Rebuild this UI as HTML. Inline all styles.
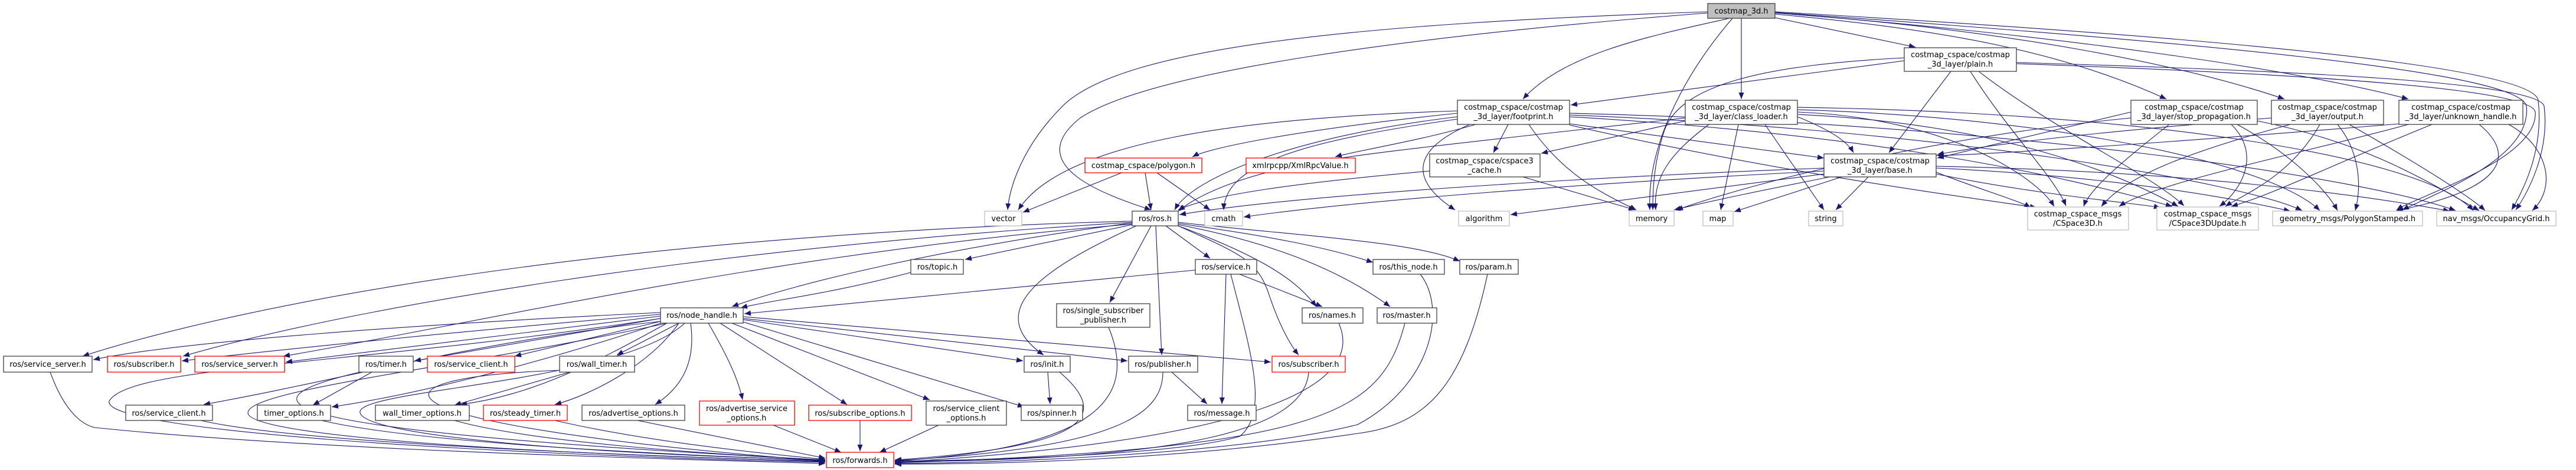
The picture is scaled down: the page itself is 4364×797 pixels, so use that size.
<!DOCTYPE html>
<html><head><meta charset="utf-8"><style>
html,body{margin:0;padding:0;background:#fff;}
svg{display:block;}
text{font-family:"DejaVu Sans","Liberation Sans",sans-serif;font-size:13px;fill:#000;text-anchor:middle;}
.e{fill:none;stroke:#191970;stroke-width:1.1;marker-end:url(#a);}
.n{fill:#fff;stroke:#404040;stroke-width:1.3;}
.r{fill:#fff;stroke:#ff0000;stroke-width:1.3;}
.g{fill:#fff;stroke:#bfbfbf;stroke-width:1.3;}
</style></head><body>
<svg width="4364" height="797" viewBox="0 0 4364 797" xmlns="http://www.w3.org/2000/svg">
<defs><marker id="a" markerUnits="userSpaceOnUse" markerWidth="12" markerHeight="9" refX="11" refY="4.5" orient="auto"><path d="M0,0 L11,4.5 L0,9 z" fill="#191970"/></marker></defs>
<g>
<!-- costmap_3d -->
<path class="e" d="M2930,31 C2800,60 2650,90 2580,168"/>
<path class="e" d="M2950,31 L2950,168"/>
<path class="e" d="M2935,31 C2850,130 2790,250 2795,356"/>
<path class="e" d="M3007,30 L3245,80"/>
<path class="e" d="M3007,24 C3300,50 3500,90 3670,168"/>
<path class="e" d="M3007,22 C3400,50 3700,110 3870,168"/>
<path class="e" d="M3007,22 C3500,60 3900,120 4080,168"/>
<path class="e" d="M2893,22 C2400,60 1950,120 1830,200 C1730,280 1870,330 1950,356"/>
<path class="e" d="M2893,20 C2300,40 1900,80 1800,180 C1730,250 1710,320 1707,356"/>
<path class="e" d="M3007,20 C3700,60 4290,110 4300,170 C4310,260 4270,330 4255,356"/>
<path class="e" d="M3007,21 C3700,70 4270,120 4280,180 C4290,270 4120,330 4070,356"/>
<!-- plain -->
<path class="e" d="M3226,103 L2661,178"/>
<path class="e" d="M3305,121 L3200,259"/>
<path class="e" d="M3226,98 C3000,110 2850,140 2820,220 C2800,280 2800,330 2800,356"/>
<path class="e" d="M3338,121 C3400,220 3480,300 3500,349"/>
<path class="e" d="M3352,121 C3480,220 3650,300 3700,349"/>
<path class="e" d="M3416,106 C3900,120 4300,140 4310,180 C4320,260 4280,330 4262,356"/>
<path class="e" d="M3416,108 C3900,125 4290,150 4295,190 C4300,270 4100,330 4060,356"/>
<!-- footprint -->
<path class="e" d="M2469,192 C2200,220 2050,250 2020,266"/>
<path class="e" d="M2500,211 C2400,240 2300,255 2262,266"/>
<path class="e" d="M2555,211 L2530,259"/>
<path class="e" d="M2490,211 C2400,250 2380,300 2465,356"/>
<path class="e" d="M2590,211 C2650,300 2720,330 2772,356"/>
<path class="e" d="M2659,210 L3090,268"/>
<path class="e" d="M2659,212 C3000,290 3300,330 3450,352"/>
<path class="e" d="M2469,198 C2200,230 2020,300 1990,356"/>
<path class="e" d="M2469,188 C2100,200 1800,240 1725,356"/>
<path class="e" d="M2469,202 C2200,240 2075,280 2073,356"/>
<path class="e" d="M2659,198 C3200,230 3500,300 3680,350"/>
<path class="e" d="M2659,195 C3300,220 3800,310 3900,357"/>
<path class="e" d="M2659,192 C3400,210 4000,300 4160,357"/>
<!-- class_loader -->
<path class="e" d="M3045,198 C3100,220 3130,240 3140,259"/>
<path class="e" d="M2855,205 L2611,260"/>
<path class="e" d="M2855,200 C2500,240 2300,260 2200,280 C2100,300 2030,330 1996,358"/>
<path class="e" d="M2895,211 C2830,260 2800,300 2805,356"/>
<path class="e" d="M2945,211 L2915,356"/>
<path class="e" d="M2990,211 L3090,356"/>
<path class="e" d="M3045,190 C3300,200 3450,300 3480,350"/>
<path class="e" d="M3045,194 C3400,210 3600,300 3690,350"/>
<path class="e" d="M3045,186 C3500,200 3850,280 3930,357"/>
<path class="e" d="M3045,182 C3600,190 4100,260 4190,357"/>
<!-- base -->
<path class="e" d="M3090,285 C2700,300 2200,330 1998,364"/>
<path class="e" d="M3090,290 C2700,310 2300,340 2107,368"/>
<path class="e" d="M3090,295 L2559,364"/>
<path class="e" d="M3100,300 C3000,320 2900,340 2836,356"/>
<path class="e" d="M3120,300 L2938,359"/>
<path class="e" d="M3165,300 L3110,356"/>
<path class="e" d="M3280,292 C3350,320 3420,340 3440,352"/>
<path class="e" d="M3280,295 C3450,330 3620,345 3660,352"/>
<path class="e" d="M3280,285 C3600,300 3800,340 3880,358"/>
<path class="e" d="M3280,282 C3700,290 4000,330 4150,358"/>
<!-- stop -->
<path class="e" d="M3610,190 L3282,268"/>
<path class="e" d="M3675,211 C3600,270 3540,320 3530,350"/>
<path class="e" d="M3780,211 C3830,260 3800,320 3760,350"/>
<path class="e" d="M3790,211 C3880,260 3940,320 3960,357"/>
<path class="e" d="M3610,200 C3300,230 3000,300 2840,356"/>
<path class="e" d="M3824,205 C4000,240 4100,300 4200,357"/>
<!-- output -->
<path class="e" d="M3848,200 C3600,220 3400,240 3282,262"/>
<path class="e" d="M3880,211 C3700,260 3600,300 3560,350"/>
<path class="e" d="M3930,211 C3880,300 3800,330 3770,350"/>
<path class="e" d="M3960,211 C4000,260 4000,320 3990,357"/>
<path class="e" d="M3980,211 C4100,280 4180,330 4210,357"/>
<!-- unknown -->
<path class="e" d="M4064,210 C3700,240 3400,260 3282,264"/>
<path class="e" d="M4080,211 C3900,260 3650,310 3590,350"/>
<path class="e" d="M4120,211 C3950,280 3850,330 3780,350"/>
<path class="e" d="M4200,211 C4260,260 4250,320 4060,357"/>
<path class="e" d="M4250,211 C4320,250 4330,320 4290,357"/>
<!-- polygon / cache -->
<path class="e" d="M1940,293 L1950,356"/>
<path class="e" d="M1900,293 L1733,360"/>
<path class="e" d="M1960,293 L2050,356"/>
<path class="e" d="M2580,300 L2770,356"/>
<path class="e" d="M2422,290 C2200,310 2050,330 1996,356"/>
<!-- ros.h -->
<path class="e" d="M1918,381 L1635,440"/>
<path class="e" d="M1975,383 L2050,438"/>
<path class="e" d="M1918,378 C1600,420 1350,480 1240,520"/>
<path class="e" d="M1950,383 L1880,513"/>
<path class="e" d="M1925,383 C1800,440 1650,520 1768,602"/>
<path class="e" d="M1958,383 L1968,602"/>
<path class="e" d="M1996,383 C2100,430 2130,440 2150,500 C2170,560 2190,590 2200,602"/>
<path class="e" d="M1996,383 C2150,440 2200,480 2230,520"/>
<path class="e" d="M1996,381 C2200,420 2300,480 2355,520"/>
<path class="e" d="M1996,379 C2150,400 2250,420 2326,445"/>
<path class="e" d="M1996,377 C2200,400 2400,410 2473,443"/>
<path class="e" d="M1918,375 C1000,400 400,520 140,604"/>
<path class="e" d="M1918,377 C1200,420 600,520 310,604"/>
<path class="e" d="M1918,380 C1300,430 800,550 480,604"/>
<!-- topic/service -->
<path class="e" d="M1543,462 C1400,500 1300,510 1255,522"/>
<path class="e" d="M2025,458 L1261,532"/>
<path class="e" d="M2100,465 L2240,520"/>
<path class="e" d="M2077,465 L2070,685"/>
<path class="e" d="M2085,465 C2120,600 2150,700 2100,740 C2000,770 1700,780 1516,782"/>
<!-- node_handle -->
<path class="e" d="M1119,530 C700,550 300,580 158,610"/>
<path class="e" d="M1119,533 C800,560 500,590 308,612"/>
<path class="e" d="M1119,536 L484,614"/>
<path class="e" d="M1119,540 L702,612"/>
<path class="e" d="M1119,545 L872,604"/>
<path class="e" d="M1150,548 L1045,602"/>
<path class="e" d="M1119,545 C800,580 600,640 345,686"/>
<path class="e" d="M1120,548 C900,620 700,670 562,690"/>
<path class="e" d="M1130,548 C1000,620 900,670 780,686"/>
<path class="e" d="M1150,548 C1100,620 1000,670 940,686"/>
<path class="e" d="M1170,548 C1180,620 1150,660 1110,686"/>
<path class="e" d="M1200,548 C1230,600 1250,640 1258,678"/>
<path class="e" d="M1220,548 L1435,686"/>
<path class="e" d="M1240,548 L1575,678"/>
<path class="e" d="M1259,546 L1735,690"/>
<path class="e" d="M1259,542 L1733,612"/>
<path class="e" d="M1259,540 L1910,612"/>
<path class="e" d="M1259,537 L2153,614"/>
<path class="e" d="M1119,540 C600,620 220,620 185,680 C170,730 800,770 1398,784"/>
<path class="e" d="M1130,548 C800,620 420,660 420,700 C420,740 900,770 1398,782"/>
<path class="e" d="M1160,548 C1050,650 600,660 610,700 C620,740 1000,770 1398,780"/>
<!-- row3 to forwards -->
<path class="e" d="M610,631 C400,680 420,730 1398,780"/>
<path class="e" d="M630,631 L530,687"/>
<path class="e" d="M965,631 L770,687"/>
<path class="e" d="M948,628 C600,640 600,720 1398,782"/>
<path class="e" d="M85,631 C110,700 140,720 160,725 C500,760 1000,775 1398,786"/>
<path class="e" d="M340,713 C500,750 1000,770 1398,783"/>
<path class="e" d="M545,713 C700,750 1100,770 1398,781"/>
<path class="e" d="M770,713 C900,750 1200,770 1398,780"/>
<path class="e" d="M940,713 C1100,750 1300,770 1398,779"/>
<path class="e" d="M1080,713 L1398,777"/>
<path class="e" d="M1310,721 L1425,767"/>
<path class="e" d="M1457,713 L1457,765"/>
<path class="e" d="M1590,721 L1490,767"/>
<path class="e" d="M1775,631 L1779,685"/>
<path class="e" d="M1795,631 C1900,720 1800,760 1516,780"/>
<path class="e" d="M1985,631 L2045,685"/>
<path class="e" d="M1970,631 C1970,700 1900,760 1516,781"/>
<path class="e" d="M1878,555 C1930,680 1850,760 1516,782"/>
<path class="e" d="M2217,631 C2210,730 2000,780 1516,783"/>
<path class="e" d="M2268,548 C2300,620 2250,740 1516,784"/>
<path class="e" d="M2380,548 C2340,700 2250,760 1516,785"/>
<path class="e" d="M2406,465 C2450,520 2430,650 2300,720 C2100,770 1700,785 1516,786"/>
<path class="e" d="M2520,465 C2480,650 2420,720 2300,735 C2000,780 1700,787 1516,787"/>
</g>
<g>
<rect x="2893" y="6" width="114" height="25" fill="#bfbfbf" stroke="#404040" stroke-width="1.3"/><text x="2950" y="23">costmap_3d.h</text>
<rect class="n" x="3226" y="81" width="190" height="40"/><text x="3321" y="97">costmap_cspace/costmap</text><text x="3321" y="113">_3d_layer/plain.h</text>
<rect class="n" x="2469" y="170" width="190" height="41"/><text x="2564" y="186">costmap_cspace/costmap</text><text x="2564" y="202">_3d_layer/footprint.h</text>
<rect class="n" x="2855" y="170" width="190" height="41"/><text x="2950" y="186">costmap_cspace/costmap</text><text x="2950" y="202">_3d_layer/class_loader.h</text>
<rect class="n" x="3610" y="170" width="214" height="41"/><text x="3717" y="186">costmap_cspace/costmap</text><text x="3717" y="202">_3d_layer/stop_propagation.h</text>
<rect class="n" x="3848" y="170" width="190" height="41"/><text x="3943" y="186">costmap_cspace/costmap</text><text x="3943" y="202">_3d_layer/output.h</text>
<rect class="n" x="4064" y="170" width="210" height="41"/><text x="4169" y="186">costmap_cspace/costmap</text><text x="4169" y="202">_3d_layer/unknown_handle.h</text>
<rect class="r" x="1838" y="268" width="198" height="25"/><text x="1937" y="285">costmap_cspace/polygon.h</text>
<rect class="r" x="2111" y="268" width="185" height="25"/><text x="2203" y="285">xmlrpcpp/XmlRpcValue.h</text>
<rect class="n" x="2422" y="261" width="187" height="39"/><text x="2515" y="277">costmap_cspace/cspace3</text><text x="2515" y="293">_cache.h</text>
<rect class="n" x="3090" y="261" width="190" height="39"/><text x="3185" y="277">costmap_cspace/costmap</text><text x="3185" y="293">_3d_layer/base.h</text>
<rect class="g" x="1668" y="358" width="63" height="25"/><text x="1700" y="375">vector</text>
<rect class="n" x="1918" y="358" width="78" height="25"/><text x="1957" y="375">ros/ros.h</text>
<rect class="g" x="2041" y="358" width="64" height="25"/><text x="2073" y="375">cmath</text>
<rect class="g" x="2471" y="358" width="86" height="25"/><text x="2514" y="375">algorithm</text>
<rect class="g" x="2760" y="358" width="76" height="25"/><text x="2798" y="375">memory</text>
<rect class="g" x="2885" y="358" width="51" height="25"/><text x="2910" y="375">map</text>
<rect class="g" x="3064" y="358" width="58" height="25"/><text x="3093" y="375">string</text>
<rect class="g" x="3435" y="351" width="171" height="39"/><text x="3520" y="367">costmap_cspace_msgs</text><text x="3520" y="383">/CSpace3D.h</text>
<rect class="g" x="3654" y="351" width="172" height="39"/><text x="3740" y="367">costmap_cspace_msgs</text><text x="3740" y="383">/CSpace3DUpdate.h</text>
<rect class="g" x="3850" y="358" width="254" height="25"/><text x="3977" y="375">geometry_msgs/PolygonStamped.h</text>
<rect class="g" x="4128" y="358" width="202" height="25"/><text x="4229" y="375">nav_msgs/OccupancyGrid.h</text>
<rect class="n" x="1543" y="440" width="89" height="25"/><text x="1588" y="457">ros/topic.h</text>
<rect class="n" x="2025" y="440" width="104" height="25"/><text x="2077" y="457">ros/service.h</text>
<rect class="n" x="2326" y="440" width="121" height="25"/><text x="2386" y="457">ros/this_node.h</text>
<rect class="n" x="2473" y="440" width="99" height="25"/><text x="2522" y="457">ros/param.h</text>
<rect class="n" x="1119" y="522" width="140" height="26"/><text x="1189" y="539">ros/node_handle.h</text>
<rect class="n" x="1790" y="515" width="158" height="40"/><text x="1869" y="531">ros/single_subscriber</text><text x="1869" y="547">_publisher.h</text>
<rect class="n" x="2206" y="522" width="103" height="26"/><text x="2257" y="539">ros/names.h</text>
<rect class="n" x="2333" y="522" width="101" height="26"/><text x="2383" y="539">ros/master.h</text>
<rect class="n" x="6" y="604" width="150" height="27"/><text x="81" y="622">ros/service_server.h</text>
<rect class="r" x="182" y="604" width="124" height="27"/><text x="244" y="622">ros/subscriber.h</text>
<rect class="r" x="330" y="604" width="152" height="27"/><text x="406" y="622">ros/service_server.h</text>
<rect class="n" x="608" y="604" width="92" height="27"/><text x="654" y="622">ros/timer.h</text>
<rect class="r" x="724" y="604" width="148" height="27"/><text x="798" y="622">ros/service_client.h</text>
<rect class="n" x="948" y="604" width="127" height="27"/><text x="1011" y="622">ros/wall_timer.h</text>
<rect class="n" x="1735" y="604" width="78" height="27"/><text x="1774" y="622">ros/init.h</text>
<rect class="n" x="1912" y="604" width="117" height="27"/><text x="1970" y="622">ros/publisher.h</text>
<rect class="r" x="2155" y="604" width="124" height="27"/><text x="2217" y="622">ros/subscriber.h</text>
<rect class="n" x="213" y="687" width="147" height="26"/><text x="286" y="705">ros/service_client.h</text>
<rect class="n" x="436" y="687" width="124" height="26"/><text x="498" y="705">timer_options.h</text>
<rect class="n" x="636" y="687" width="159" height="26"/><text x="715" y="705">wall_timer_options.h</text>
<rect class="r" x="819" y="687" width="142" height="26"/><text x="890" y="705">ros/steady_timer.h</text>
<rect class="n" x="986" y="687" width="174" height="26"/><text x="1073" y="705">ros/advertise_options.h</text>
<rect class="r" x="1185" y="680" width="161" height="41"/><text x="1265" y="697">ros/advertise_service</text><text x="1265" y="713">_options.h</text>
<rect class="r" x="1370" y="687" width="174" height="26"/><text x="1457" y="705">ros/subscribe_options.h</text>
<rect class="n" x="1569" y="680" width="136" height="41"/><text x="1637" y="697">ros/service_client</text><text x="1637" y="713">_options.h</text>
<rect class="n" x="1730" y="687" width="104" height="26"/><text x="1782" y="705">ros/spinner.h</text>
<rect class="n" x="2012" y="687" width="116" height="26"/><text x="2070" y="705">ros/message.h</text>
<rect class="r" x="1400" y="767" width="114" height="26"/><text x="1457" y="785">ros/forwards.h</text>
</g>
</svg>
</body></html>
